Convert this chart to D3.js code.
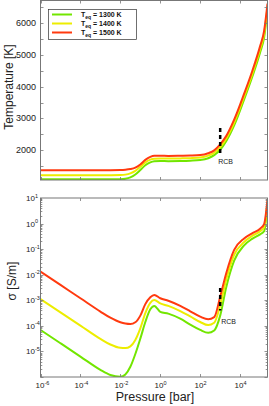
<!DOCTYPE html>
<html>
<head>
<meta charset="utf-8">
<style>
  body { margin: 0; padding: 0; background: #fff; }
  svg { display: block; font-family: "Liberation Sans", Arial, sans-serif; }
  .frame { fill: none; stroke: #777; stroke-width: 1; }
  .tick { stroke: #777; stroke-width: 0.8; }
  .tl { font-size: 8px; fill: #222; }
  .lab { font-size: 12px; fill: #222; }
</style>
</head>
<body>
<svg width="269" height="406"></svg>
<script src="https://cdn.jsdelivr.net/npm/d3@7"></script>
<script>
// log10 pressure [bar]
var logP = [-6, -5, -4, -3, -2.5, -2, -1.75, -1.5, -1.25, -1, -0.75, -0.5, -0.3, 0, 0.4, 1, 1.5, 2, 2.4, 2.7, 3, 3.3, 3.7, 4.2, 4.6, 5, 5.2, 5.37];

// temperature [K]
var temp1300 = [1075, 1075, 1075, 1075, 1076, 1080, 1095, 1140, 1230, 1370, 1520, 1610, 1645, 1655, 1650, 1655, 1665, 1685, 1740, 1840, 2010, 2280, 2780, 3600, 4300, 5080, 5550, 6420];
var temp1400 = [1203, 1203, 1203, 1203, 1205, 1212, 1225, 1265, 1345, 1470, 1610, 1700, 1728, 1735, 1732, 1737, 1745, 1765, 1825, 1915, 2090, 2360, 2870, 3690, 4390, 5180, 5660, 6520];
var temp1500 = [1361, 1361, 1361, 1362, 1363, 1368, 1378, 1400, 1445, 1545, 1690, 1785, 1820, 1822, 1815, 1820, 1826, 1842, 1900, 1990, 2180, 2440, 2960, 3780, 4480, 5280, 5760, 6620];

// log10 conductivity [S/m]
var sig1300 = [-4.16, -4.68, -5.2, -5.72, -5.92, -5.99, -5.9, -5.6, -5.1, -4.5, -3.85, -3.35, -3.22, -3.45, -3.52, -3.72, -3.95, -4.16, -4.27, -4.18, -3.6, -2.5, -1.45, -0.85, -0.6, -0.42, -0.3, 0.75];
var sig1400 = [-2.95, -3.47, -3.99, -4.51, -4.73, -4.86, -4.87, -4.8, -4.55, -4.1, -3.5, -3.1, -2.99, -3.12, -3.22, -3.42, -3.63, -3.85, -3.97, -3.88, -3.2, -2.2, -1.22, -0.72, -0.48, -0.3, -0.15, 0.85];
var sig1500 = [-1.88, -2.40, -2.92, -3.44, -3.68, -3.86, -3.91, -3.93, -3.86, -3.6, -3.15, -2.88, -2.79, -2.92, -3.02, -3.22, -3.43, -3.64, -3.74, -3.66, -2.86, -1.95, -1.03, -0.58, -0.38, -0.2, -0.02, 0.95];

var labels = ["1300 K", "1400 K", "1500 K"];
var colors = ["#72e600", "#eded00", "#ff3a0f"];
var rcbP = 1000;

var xTicks = [1e-6, 1e-4, 1e-2, 1, 1e2, 1e4];
var tTicksMajor = [2000, 3000, 4000, 5000, 6000];
var sTicks = [1e-5, 1e-4, 1e-3, 1e-2, 1e-1, 1, 10];

var svg = d3.select("svg");
var L = 40.5, R = 267.5;
var x = d3.scaleLog().domain([1e-6, Math.pow(10, 5.37)]).range([L, R]);
var yT = d3.scaleLinear().domain([1055, 6720]).range([180, 0.5]);
var yS = d3.scaleLog().domain([1e-6, 10]).range([377, 198]);

function clip(id, y0, y1) {
  svg.append("clipPath").attr("id", id).append("rect")
    .attr("x", L).attr("y", y0).attr("width", R - L).attr("height", y1 - y0);
}
clip("c1", 0, 180);
clip("c2", 198, 377);

function supLabel(g, base, exp) {
  var t = g.append("text").attr("class", "tl");
  t.append("tspan").text(base);
  t.append("tspan").attr("dy", -3.5).style("font-size", "5.5px").text(exp);
  return t;
}

function xTicksDraw(y0, y1, withLabels) {
  xTicks.forEach(function(p) {
    var px = Math.round(x(p)) + 0.5;
    svg.append("line").attr("class", "tick").attr("x1", px).attr("x2", px).attr("y1", y1).attr("y2", y1 - 3);
    svg.append("line").attr("class", "tick").attr("x1", px).attr("x2", px).attr("y1", y0).attr("y2", y0 + 3);
    if (withLabels) {
      var t = supLabel(svg, "10", String(Math.round(Math.log10(p))));
      t.attr("x", px - 6).attr("y", y1 + 11);
    }
  });
}

// ---- top panel: temperature
var temps = [temp1300, temp1400, temp1500];
var lineT = d3.line().x(function(d) { return x(Math.pow(10, d[0])); }).y(function(d) { return yT(d[1]); }).curve(d3.curveMonotoneX);
temps.forEach(function(ser, i) {
  svg.append("path").attr("clip-path", "url(#c1)")
    .datum(logP.map(function(p, j) { return [p, ser[j]]; }))
    .attr("d", lineT).attr("fill", "none").attr("stroke", colors[i]).attr("stroke-width", 2);
});
svg.append("rect").attr("class", "frame").attr("x", L).attr("y", 0.5).attr("width", R - L).attr("height", 179.5);
d3.range(1500, 6700, 500).forEach(function(v) {
  var py = Math.round(yT(v)) + 0.5;
  svg.append("line").attr("class", "tick").attr("x1", L).attr("x2", L + 3).attr("y1", py).attr("y2", py);
  svg.append("line").attr("class", "tick").attr("x1", R).attr("x2", R - 3).attr("y1", py).attr("y2", py);
});
tTicksMajor.forEach(function(v) {
  svg.append("text").attr("class", "tl").style("font-size", "9px").attr("x", 36).attr("y", yT(v) + 3)
    .attr("text-anchor", "end").text(v);
});
xTicksDraw(0.5, 180, false);
svg.append("text").attr("class", "lab").attr("transform", "translate(13,87) rotate(-90)")
  .attr("text-anchor", "middle").text("Temperature [K]");

// RCB marker (top)
svg.append("line").attr("x1", x(rcbP)).attr("x2", x(rcbP)).attr("y1", yT(2700)).attr("y2", yT(1900))
  .attr("stroke", "#000").attr("stroke-width", 2.5).attr("stroke-dasharray", "4,3");
svg.append("text").attr("x", x(rcbP) - 2).attr("y", 164).style("font-size", "7px").attr("fill", "#222").text("RCB");

// legend
var lg = svg.append("g");
lg.append("rect").attr("x", 48.5).attr("y", 9.5).attr("width", 88).attr("height", 30).attr("fill", "#fff").attr("stroke", "#333").attr("stroke-width", 0.7);
labels.forEach(function(lab, i) {
  var ly = 14.5 + i * 9;
  lg.append("line").attr("x1", 52).attr("x2", 72).attr("y1", ly).attr("y2", ly).attr("stroke", colors[i]).attr("stroke-width", 2);
  var t = lg.append("text").attr("x", 81).attr("y", ly + 2.5).style("font-size", "7px").style("font-weight", "bold").attr("fill", "#111");
  t.append("tspan").text("T");
  t.append("tspan").attr("dy", 2).style("font-size", "5px").text("eq");
  t.append("tspan").attr("dy", -2).text(" = " + lab);
});

// ---- bottom panel: conductivity
var sigs = [sig1300, sig1400, sig1500];
var lineS = d3.line().x(function(d) { return x(Math.pow(10, d[0])); }).y(function(d) { return yS(Math.pow(10, d[1])); }).curve(d3.curveMonotoneX);
sigs.forEach(function(ser, i) {
  svg.append("path").attr("clip-path", "url(#c2)")
    .datum(logP.map(function(p, j) { return [p, ser[j]]; }))
    .attr("d", lineS).attr("fill", "none").attr("stroke", colors[i]).attr("stroke-width", 2);
});
svg.append("rect").attr("class", "frame").attr("x", L).attr("y", 198).attr("width", R - L).attr("height", 179);
for (var e = -6; e < 1; e++) {
  for (var m = 1; m < 10; m++) {
    var py = Math.round(yS(m * Math.pow(10, e))) + 0.5;
    var len = m === 1 ? 3 : 1.8;
    svg.append("line").attr("class", "tick").attr("x1", L).attr("x2", L + len).attr("y1", py).attr("y2", py);
    svg.append("line").attr("class", "tick").attr("x1", R).attr("x2", R - len).attr("y1", py).attr("y2", py);
  }
}
sTicks.forEach(function(v) {
  var t = supLabel(svg, "10", String(Math.round(Math.log10(v))));
  t.attr("x", 26).attr("y", yS(v) + 3);
});
xTicksDraw(198, 377, true);
svg.append("text").attr("class", "lab").attr("transform", "translate(16,281) rotate(-90)")
  .attr("text-anchor", "middle").text("σ [S/m]");
svg.append("text").attr("class", "lab").attr("x", 155).attr("y", 401).attr("text-anchor", "middle").style("font-size", "12.5px").text("Pressure [bar]");

// RCB marker (bottom)
svg.append("line").attr("x1", x(rcbP)).attr("x2", x(rcbP)).attr("y1", yS(3e-3)).attr("y2", yS(4e-4))
  .attr("stroke", "#000").attr("stroke-width", 2.5).attr("stroke-dasharray", "4,3");
svg.append("text").attr("x", x(rcbP) + 1).attr("y", 324).style("font-size", "7px").attr("fill", "#222").text("RCB");
</script>
</body>
</html>
